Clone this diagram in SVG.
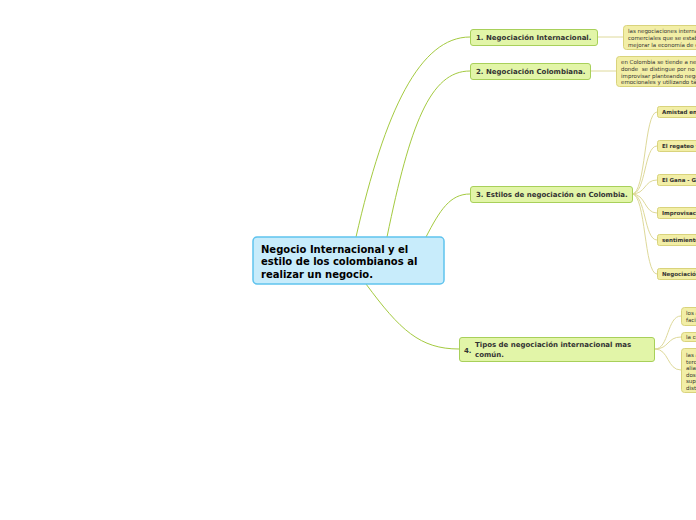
<svg xmlns="http://www.w3.org/2000/svg" width="696" height="520" viewBox="0 0 696 520">
<style>
.c{fill:none;stroke:#a4ca40;stroke-width:1}
.l{fill:none;stroke:#ded99a;stroke-width:1}
.n rect{fill:#e2f5a8;stroke:#a8d05a;stroke-width:1}
.n text{font-family:"DejaVu Sans",sans-serif;font-weight:bold;font-size:7px;fill:#333}
.f rect{fill:#f2eea6;stroke:#d9d37c;stroke-width:1}
.f text{font-family:"DejaVu Sans",sans-serif;font-size:5.5px;fill:#333}
.f text.b{font-weight:bold}
.m rect{fill:#c8ecfb;stroke:#5fc3ee;stroke-width:1.5}
.m text{font-family:"DejaVu Sans",sans-serif;font-weight:bold;font-size:10px;fill:#000}
</style>
<rect width="696" height="520" fill="#fff"/>
<g id="connectors">
<path class="c" d="M356,237 C385,110 420,37 470,37"/>
<path class="c" d="M387,237 C410,125 430,71 470,71"/>
<path class="c" d="M426,237 C440,210 450,194 470,194"/>
<path class="c" d="M366,284 C400,330 420,349 459,349"/>
<path class="l" d="M597,37 L623,37"/>
<path class="l" d="M590,71 L616,71"/>
<path class="l" d="M632,194 C646,194 644,112 657,112"/>
<path class="l" d="M632,194 C646,194 644,146 657,146"/>
<path class="l" d="M632,194 C646,194 644,180 657,180"/>
<path class="l" d="M632,194 C646,194 644,213 657,213"/>
<path class="l" d="M632,194 C646,194 644,240 657,240"/>
<path class="l" d="M632,194 C646,194 644,274 657,274"/>
<path class="l" d="M655,349 C669,349 667,316 681,316"/>
<path class="l" d="M655,349 C669,349 667,337 681,337"/>
<path class="l" d="M655,349 C669,349 667,370 681,370"/>
</g>
<g id="central" class="m">
<rect x="253" y="237" width="191" height="47" rx="4"/>
<text x="261" y="252.5">Negocio Internacional y el</text>
<text x="261" y="265">estilo de los colombianos al</text>
<text x="261" y="277.5">realizar un negocio.</text>
</g>
<g id="n1" class="n"><rect x="470.5" y="29.5" width="127" height="16" rx="2.5"/><text x="476" y="40">1. Negociación Internacional.</text></g>
<g id="n2" class="n"><rect x="470.5" y="63.5" width="120" height="16" rx="2.5"/><text x="476" y="74">2. Negociación Colombiana.</text></g>
<g id="n3" class="n"><rect x="470.5" y="186.5" width="162" height="16" rx="2.5"/><text x="476" y="197">3. Estilos de negociación en Colombia.</text></g>
<g id="n4" class="n"><rect x="459.5" y="337.5" width="195" height="24" rx="2.5"/><text x="464" y="353">4.</text><text x="475" y="347">Tipos de negociación internacional mas</text><text x="475" y="357">común.</text></g>
<g id="f1" class="f"><rect x="623.5" y="25.5" width="90" height="24" rx="3"/><text x="628" y="33">las negociaciones internacionales</text><text x="628" y="40">comerciales que se establecen</text><text x="628" y="47">mejorar la economía de ellos</text></g>
<g id="f2" class="f"><rect x="616.5" y="56.5" width="90" height="30" rx="3"/><text x="621" y="64">en Colombia se tiende a negociar</text><text x="621" y="71">donde &#160;se distingue por no</text><text x="621" y="77.5">improvisar planteando negocios</text><text x="621" y="84">emocionales y utilizando tácticas</text></g>
<g id="f3" class="f"><rect x="657.5" y="106.5" width="60" height="11" rx="2"/><text class="b" x="662" y="114">Amistad en los</text></g>
<g id="f4" class="f"><rect x="657.5" y="140.5" width="60" height="11" rx="2"/><text class="b" x="662" y="148">El regateo y</text></g>
<g id="f5" class="f"><rect x="657.5" y="174.5" width="60" height="11" rx="2"/><text class="b" x="662" y="182">El Gana - Gana</text></g>
<g id="f6" class="f"><rect x="657.5" y="207.5" width="60" height="11" rx="2"/><text class="b" x="662" y="215">Improvisación</text></g>
<g id="f7" class="f"><rect x="657.5" y="234.5" width="60" height="11" rx="2"/><text class="b" x="662" y="242">sentimientos</text></g>
<g id="f8" class="f"><rect x="657.5" y="268.5" width="60" height="11" rx="2"/><text class="b" x="662" y="276">Negociación</text></g>
<g id="f9" class="f"><rect x="681.5" y="307.5" width="40" height="18" rx="3"/><text x="686" y="315">los acuerdos</text><text x="686" y="322">facilitan</text></g>
<g id="f10" class="f"><rect x="681.5" y="332.5" width="40" height="9" rx="3"/><text x="686" y="339">la compra</text></g>
<g id="f11" class="f"><rect x="681.5" y="348.5" width="40" height="44" rx="3"/><text x="686" y="357">las alianzas</text><text x="686" y="363.5">terceros</text><text x="686" y="370">alianzas</text><text x="686" y="376.5">dos o más</text><text x="686" y="383">superan</text><text x="686" y="389.5">distintas</text></g>
</svg>
